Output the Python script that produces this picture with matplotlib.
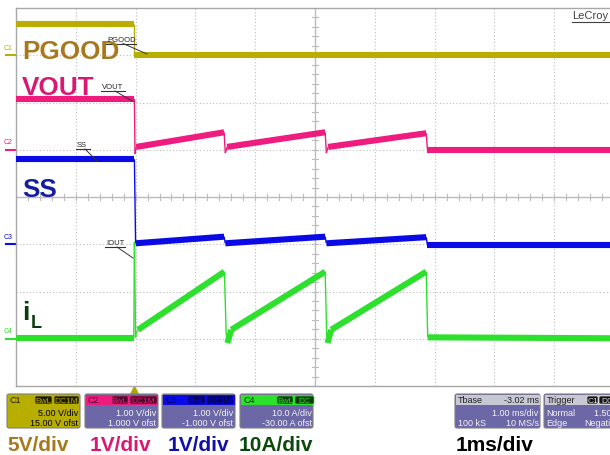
import matplotlib
matplotlib.use('Agg')
import matplotlib.pyplot as plt
import numpy as np
from matplotlib.collections import LineCollection
from matplotlib.patches import FancyBboxPatch, Rectangle

plt.rcParams['font.family'] = ['Liberation Sans', 'DejaVu Sans']

# scope settings, one entry per channel
ch_names = ['C1', 'C2', 'C3', 'C4']
ch_scale = [5.0, 1.0, 1.0, 10.0]      # V/div or A/div
ch_ofst = [15.0, 1.0, -1.0, -30.0]    # offset in V or A
ch_colors = ['#b8ae00', '#ee1c7e', '#0a0ae6', '#2ee02e']
ch_dark = ['#1a1a00', '#4a0a28', '#000050', '#0a3a0a']
ch_div_txt = ['5.00 V/div', '1.00 V/div', '1.00 V/div', '10.0 A/div']
ch_ofst_txt = ['15.00 V ofst', '1.000 V ofst', '-1.000 V ofst', '-30.00 A ofst']
ch_tags = [['BwL', 'DC1M'], ['BwL', 'DC1M'], ['BwL', 'DC1M'], ['BwL', 'DC']]

tdiv = 1.0       # ms/div
tdelay = -3.02   # ms
ndiv_x = 10
ndiv_y = 8

# traces, time in ms after the trigger
pgood_t = [-1.98, 0.0, 0.0, 8.02]
pgood_v = [3.3, 3.3, 0.05, 0.05]

vout_t = [-1.98, 0.0, 0.01, 0.03, 1.50, 1.52, 1.55, 3.19, 3.21, 3.24, 4.88, 4.90, 8.02]
vout_v = [1.08, 1.08, -0.09, 0.06, 0.37, -0.07, 0.06, 0.37, -0.07, 0.06, 0.35, 0.0, 0.0]

ss_t = [-1.98, 0.0, 0.02, 1.50, 1.52, 3.19, 3.21, 4.88, 4.90, 8.02]
ss_v = [1.80, 1.80, 0.02, 0.16, 0.02, 0.16, 0.02, 0.15, -0.02, -0.02]

il_t = [-1.98, -0.01, 0.0, 0.02, 0.03, 0.06, 1.505, 1.535, 1.555, 1.62,
        3.19, 3.215, 3.23, 3.29, 4.88, 4.905, 8.02]
il_v = [0.1, 0.1, 20.5, 0.3, 1.2, 1.9, 14.2, 1.0, -0.9, 1.9,
        14.2, 1.0, -0.9, 1.9, 14.2, 0.3, 0.1]

trace_labels = ['PGOOD', 'VOUT', 'SS', 'i']
label_colors = ['#a8781c', '#d81872', '#121e9e', '#0c3a0c']
bottom_labels = ['5V/div', '1V/div', '1V/div', '10A/div']
bottom_colors = ['#a8781c', '#d81872', '#1010a8', '#0c4a0c']


def to_div(v, i):
    return ndiv_y / 2 + (np.asarray(v) + ch_ofst[i]) / ch_scale[i]


def draw_trace(ax, t, v, i):
    t = np.asarray(t, dtype=float)
    pts = np.column_stack([t, to_div(v, i)])
    segs = np.stack([pts[:-1], pts[1:]], axis=1)
    # fast edges show up thin on the scope, the noisy parts as a thick band
    lw = np.where(np.diff(t) > 0.04, 4.4, 1.0)
    ax.add_collection(LineCollection(segs, colors=ch_colors[i], linewidths=lw,
                                     capstyle='butt', zorder=3))


W, H = 610, 455
fig = plt.figure(figsize=(W / 100, H / 100), dpi=100)
fig.patch.set_facecolor('white')

# graticule area in pixels: x 16..614, y 8..386
ax = fig.add_axes([16 / W, (H - 386) / H, 598 / W, 378 / H])
t0 = -tdelay - ndiv_x / 2 * tdiv
ax.set_xlim(t0, t0 + ndiv_x * tdiv)
ax.set_ylim(0, ndiv_y)
ax.set_xticks([])
ax.set_yticks([])
for s in ax.spines.values():
    s.set_color('#a8a8a8')
    s.set_linewidth(1.0)

gcol = '#bcbcbc'
for k in range(1, ndiv_x):
    x = t0 + k * tdiv
    if k == ndiv_x // 2:
        ax.axvline(x, color=gcol, lw=1.0, zorder=1)
        for yy in np.arange(0, ndiv_y + 0.01, 0.2):
            ax.plot([x - 0.05, x + 0.05], [yy, yy], color=gcol, lw=0.8, zorder=1)
    else:
        ax.axvline(x, color=gcol, lw=0.8, ls=(0, (1, 2)), zorder=1)
for k in range(1, ndiv_y):
    if k == ndiv_y // 2:
        ax.axhline(k, color=gcol, lw=1.0, zorder=1)
        for xx in np.arange(t0, t0 + ndiv_x * tdiv + 0.01, 0.2 * tdiv):
            ax.plot([xx, xx], [k - 0.063, k + 0.063], color=gcol, lw=0.8, zorder=1)
    else:
        ax.axhline(k, color=gcol, lw=0.8, ls=(0, (1, 2)), zorder=1)

draw_trace(ax, pgood_t, pgood_v, 0)
draw_trace(ax, vout_t, vout_v, 1)
draw_trace(ax, ss_t, ss_v, 2)
draw_trace(ax, il_t, il_v, 3)

# channel zero markers on the left edge
ytr = ax.get_yaxis_transform()
for i in range(4):
    y0 = float(to_div(0, i))
    ax.plot([-0.017, 0.0], [y0, y0], color=ch_colors[i], lw=1.5,
            transform=ytr, clip_on=False)
    ax.text(-0.021, y0 + 0.07, ch_names[i], color=ch_colors[i], fontsize=5,
            transform=ytr, ha='left', va='bottom', clip_on=False)

# trigger marker
ax.plot([0.0], [-0.011], marker='^', ms=5.5, color='#b0a400',
        transform=ax.get_xaxis_transform(), clip_on=False)

# overlay in pixel coordinates for labels and info boxes
ov = fig.add_axes([0, 0, 1, 1], zorder=5)
ov.set_xlim(0, W)
ov.set_ylim(H, 0)
ov.axis('off')

# big trace names
ov.text(22, 59, trace_labels[0], color=label_colors[0], fontsize=18.8,
        fontweight='bold', va='baseline')
ov.text(22, 95, trace_labels[1], color=label_colors[1], fontsize=18.8,
        fontweight='bold', va='baseline')
ov.text(22, 197, trace_labels[2], color=label_colors[2], fontsize=18.8,
        fontweight='bold', va='baseline')
ov.text(22, 320, trace_labels[3], color=label_colors[3], fontsize=18.8,
        fontweight='bold', va='baseline')
ov.text(31, 328, 'L', color=label_colors[3], fontsize=13,
        fontweight='bold', va='baseline')

# small scope annotations with leaders
notes = [('PGOOD', 106, 41.5, 136, (123, 147), (43.5, 54)),
         ('VOUT', 101, 89, 125, (115, 133), (91, 101.5)),
         ('SS', 76, 147, 90, (85, 97), (149, 161)),
         ('IOUT', 105, 245, 125, (117, 133), (247, 258))]
for txt, x, yb, xe, lx, ly in notes:
    ov.text(x + 1, yb, txt, fontsize=5.5, color='#222222', va='baseline')
    ov.plot([x, xe], [yb + 2, yb + 2], color='#333333', lw=0.8)
    ov.plot(lx, ly, color='#333333', lw=0.7)

ov.text(572, 19, 'LeCroy', fontsize=8, color='#404040', va='baseline')
ov.plot([572, 612], [21.5, 21.5], color='#404040', lw=0.8)


def rbox(x0, y0, x1, y1, fc, ec='#808080'):
    ov.add_patch(FancyBboxPatch((x0, y0), x1 - x0, y1 - y0,
                                boxstyle='round,pad=0,rounding_size=2',
                                fc=fc, ec=ec, lw=0.8))


def tag(x0, x1, txt, fc, tc):
    ov.add_patch(FancyBboxPatch((x0, 396), x1 - x0, 8,
                                boxstyle='round,pad=0,rounding_size=1.5',
                                fc=fc, ec=tc, lw=0.5))
    ov.text((x0 + x1) / 2, 403, txt, fontsize=6, color=tc, ha='center',
            va='baseline')


body = '#6c68a8'
head_gray = '#c8c8d4'
box_x = [7, 85, 162, 240]
tag_x = [[(35, 52), (54, 79)], [(112, 128), (130, 157)],
         [(188, 205), (207, 233)], [(277, 293), (295, 314)]]
for i in range(4):
    x0 = box_x[i]
    x1 = x0 + 73
    if i == 0:
        rbox(x0, 394, x1, 428, ch_colors[0])
        tc = 'black'
    else:
        rbox(x0, 394, x1, 428, body)
        ov.add_patch(Rectangle((x0 + 0.5, 394.5), x1 - x0 - 1, 10.5,
                               fc=ch_colors[i], ec='none'))
        tc = '#f4f4f4'
    ov.text(x0 + 3, 403, ch_names[i], fontsize=6.5, color=ch_dark[i],
            va='baseline')
    for (a, b), tg in zip(tag_x[i], ch_tags[i]):
        tag(a, b, tg, ch_dark[i], ch_colors[i])
    ov.text(x1 - 1.5, 416, ch_div_txt[i], fontsize=6.5, color=tc,
            ha='right', va='baseline')
    ov.text(x1 - 1.5, 426.5, ch_ofst_txt[i], fontsize=6.5, color=tc,
            ha='right', va='baseline')

# timebase box
rbox(455, 394, 540, 428, body)
ov.add_patch(Rectangle((455.5, 394.5), 84, 10.5, fc=head_gray, ec='none'))
ov.text(457.5, 403, 'Tbase', fontsize=6.5, color='#202020', va='baseline')
ov.text(538.5, 403, '%.2f ms' % tdelay, fontsize=6.5, color='#202020',
        ha='right', va='baseline')
ov.text(538.5, 416, '%.2f ms/div' % tdiv, fontsize=6.5, color='#f4f4f4',
        ha='right', va='baseline')
ov.text(457.5, 426.5, '100 kS', fontsize=6.5, color='#f4f4f4', va='baseline')
ov.text(538.5, 426.5, '10 MS/s', fontsize=6.5, color='#f4f4f4',
        ha='right', va='baseline')

# trigger box, runs off the right edge like on the screen
rbox(544, 394, 625, 428, body)
ov.add_patch(Rectangle((544.5, 394.5), 80, 10.5, fc=head_gray, ec='none'))
ov.text(546.5, 403, 'Trigger', fontsize=6.5, color='#202020', va='baseline')
tag(587, 598, 'C1', '#151515', '#e0e0e0')
tag(599, 616, 'DC', '#151515', '#e0e0e0')
ov.text(546.5, 416, 'Normal', fontsize=6.5, color='#f4f4f4', va='baseline')
ov.text(620, 416, '1.50 V', fontsize=6.5, color='#f4f4f4', ha='right',
        va='baseline')
ov.text(546.5, 426.5, 'Edge', fontsize=6.5, color='#f4f4f4', va='baseline')
ov.text(620, 426.5, 'Negative', fontsize=6.5, color='#f4f4f4', ha='right',
        va='baseline')

# scale captions under the boxes
cap_x = [7, 90, 168, 239]
for i in range(4):
    ov.text(cap_x[i], 451, bottom_labels[i], color=bottom_colors[i],
            fontsize=15, fontweight='bold', va='baseline')
ov.text(456, 451, '%gms/div' % tdiv, color='black', fontsize=15,
        fontweight='bold', va='baseline')

fig.savefig('out.png', dpi=100)
